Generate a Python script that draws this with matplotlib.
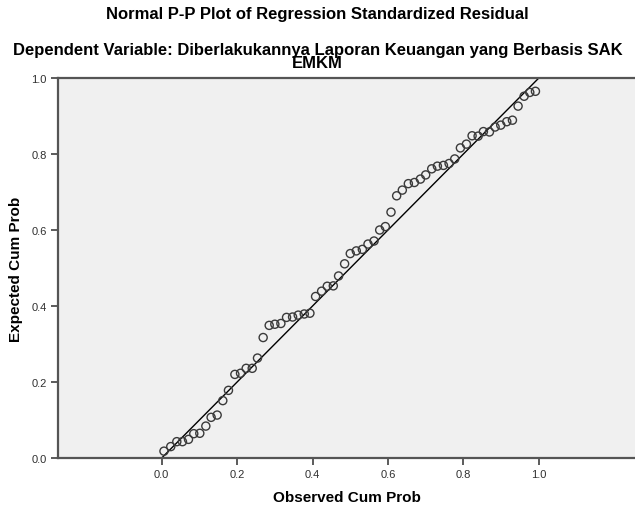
import matplotlib
matplotlib.use("Agg")
import matplotlib.pyplot as plt

plt.rcParams["font.family"] = ["Liberation Sans", "DejaVu Sans"]

# observed vs expected cumulative probabilities
observed = [
    0.006, 0.024, 0.040, 0.055, 0.071, 0.085, 0.101, 0.117, 0.131, 0.147,
    0.162, 0.177, 0.194, 0.209, 0.224, 0.240, 0.254, 0.269, 0.285, 0.300,
    0.316, 0.331, 0.347, 0.362, 0.378, 0.393, 0.408, 0.424, 0.439, 0.455,
    0.469, 0.485, 0.500, 0.516, 0.532, 0.547, 0.563, 0.578, 0.593, 0.608,
    0.623, 0.638, 0.654, 0.670, 0.686, 0.700, 0.716, 0.731, 0.747, 0.762,
    0.777, 0.792, 0.808, 0.823, 0.839, 0.853, 0.869, 0.884, 0.899, 0.915,
    0.930, 0.945, 0.961, 0.976, 0.991,
]
expected = [
    0.018, 0.030, 0.043, 0.043, 0.049, 0.064, 0.065, 0.084, 0.107, 0.113,
    0.151, 0.178, 0.220, 0.223, 0.236, 0.236, 0.263, 0.317, 0.349, 0.352,
    0.354, 0.370, 0.371, 0.376, 0.379, 0.381, 0.425, 0.439, 0.452, 0.453,
    0.479, 0.511, 0.538, 0.545, 0.549, 0.563, 0.571, 0.600, 0.609, 0.647,
    0.690, 0.705, 0.722, 0.725, 0.734, 0.745, 0.761, 0.768, 0.770, 0.775,
    0.787, 0.816, 0.826, 0.848, 0.847, 0.859, 0.858, 0.871, 0.876, 0.885,
    0.889, 0.926, 0.952, 0.962, 0.965,
]
ref_line = [0.0, 1.0]
ticks = [0.0, 0.2, 0.4, 0.6, 0.8, 1.0]
tick_labels = ["0.0", "0.2", "0.4", "0.6", "0.8", "1.0"]

fig = plt.figure(figsize=(6.35, 5.06), dpi=100)
ax = fig.add_axes([58 / 635, 1 - 459 / 506, 1 - 58 / 635, (459 - 79) / 506])
ax.set_facecolor("#f0f0f0")

ax.plot(ref_line, ref_line, color="black", lw=1.0, zorder=2)
ax.scatter(observed, expected, s=34, facecolors="none", edgecolors="#3a3a3a",
           linewidths=1.0, zorder=3)

ax.set_xlim(-0.275, 1.255)
ax.set_ylim(0, 1)
ax.set_xticks(ticks)
ax.set_xticklabels(tick_labels)
ax.set_yticks(ticks)
ax.set_yticklabels(tick_labels)
ax.tick_params(length=5, width=1.2, color="#404040", labelsize=8,
               labelcolor="#303030", pad=3)

for side in ["left", "bottom", "top"]:
    ax.spines[side].set_color("#555555")
    ax.spines[side].set_linewidth(1.6)
ax.spines["right"].set_visible(False)

ax.set_xlabel("Observed Cum Prob", fontsize=11, fontweight="bold", labelpad=8)
ax.set_ylabel("Expected Cum Prob", fontsize=11, fontweight="bold", labelpad=6)

fig.text(0.5, 1 - 15 / 506, "Normal P-P Plot of Regression Standardized Residual",
         ha="center", va="center", fontsize=12, fontweight="bold")
fig.text(0.5, 1 - 50 / 506,
         "Dependent Variable: Diberlakukannya Laporan Keuangan yang Berbasis SAK",
         ha="center", va="center", fontsize=12, fontweight="bold")
fig.text(0.5, 1 - 64 / 506, "EMKM", ha="center", va="center",
         fontsize=12, fontweight="bold")

fig.savefig("out.png", dpi=100)
